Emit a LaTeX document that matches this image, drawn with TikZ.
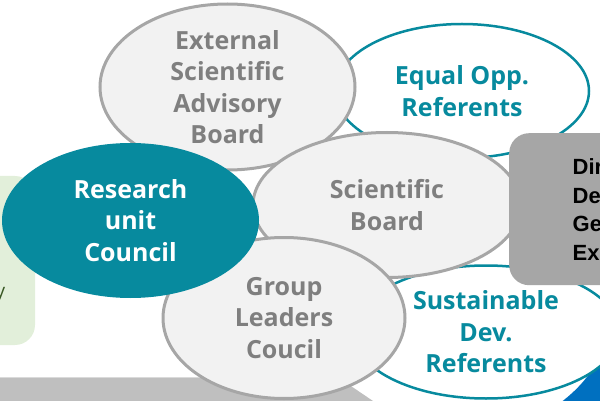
\documentclass[tikz,border=0pt]{standalone}
\usepackage{fontspec}
\setmainfont{Open Sans}
\newfontfamily\boxfont{Liberation Sans}
\usetikzlibrary{shapes.geometric}
\definecolor{tealc}{HTML}{078A9E}
\definecolor{lgrey}{HTML}{F2F2F2}
\definecolor{bgrey}{HTML}{A6A6A6}
\definecolor{tgrey}{HTML}{7F7F7F}
\definecolor{bandgrey}{HTML}{BFBFBF}
\definecolor{bandline}{HTML}{DADADA}
\definecolor{blueC}{HTML}{0070C0}
\definecolor{greenC}{HTML}{E2EFDA}
\definecolor{greenT}{HTML}{385723}
\begin{document}
\begin{tikzpicture}[x=1pt,y=-1pt,
  oval/.style={ellipse, inner sep=0pt, align=center,
    font=\fontsize{25}{31.5}\selectfont\bfseries},
  greyoval/.style={oval, fill=lgrey, draw=bgrey, line width=3pt, text=tgrey},
  whiteoval/.style={oval, fill=white, draw=tealc, line width=2.5pt, text=tealc},
  tealoval/.style={oval, fill=tealc, draw=none, text=white},
  greybox/.style={rectangle, fill=bgrey, draw=none, rounded corners=20pt, inner sep=0pt},
  boxtext/.style={inner sep=0pt, align=left, text=black,
    font=\boxfont\fontsize{22}{28.5}\selectfont\bfseries}]
\useasboundingbox (0,0) rectangle (600,401);
\clip (0,0) rectangle (600,401);
% background shapes
\fill[bandgrey] (-2,378) -- (339,378) -- (376,403) -- (-2,403) -- cycle;
\draw[bandline, line width=1.5pt] (-2,377.5) -- (339,377.5);
\fill[blueC] (560,403) .. controls (580,388) and (593,372) .. (603,350) -- (603,403) -- cycle;
\fill[greenC, rounded corners=20pt] (-40,176) rectangle (35,345);
\node[anchor=base east, inner sep=0pt, text=greenT, font=\fontsize{19}{22}\selectfont] (ytail) at (5.5,297) {y};
% ellipses
\node[whiteoval, minimum width=254pt, minimum height=134pt] (equal) at (462,91) {Equal Opp.\\Referents};
\node[greyoval, minimum width=255pt, minimum height=166pt] (esab) at (227.5,87) {External\\Scientific\\Advisory\\Board};
\node[whiteoval, minimum width=266pt, minimum height=133pt] (sust) at (486,332) {Sustainable\\Dev.\\Referents};
\node[greyoval, minimum width=268pt, minimum height=145pt] (sb) at (387,205) {Scientific\\Board};
\node[greyoval, minimum width=242pt, minimum height=161pt] (glc) at (284,318) {Group\\Leaders\\Coucil};
\node[tealoval, minimum width=257pt, minimum height=155pt] (ruc) at (130.5,220.5) {Research\\unit\\Council};
% right grey box
\node[greybox, anchor=north west, minimum width=140pt, minimum height=152pt] (dirbox) at (509,133) {};
\node[boxtext, anchor=west] (dirtext) at (572.5,209.7) {Dir\\De\\Ge\\Ex};
\end{tikzpicture}
\end{document}
